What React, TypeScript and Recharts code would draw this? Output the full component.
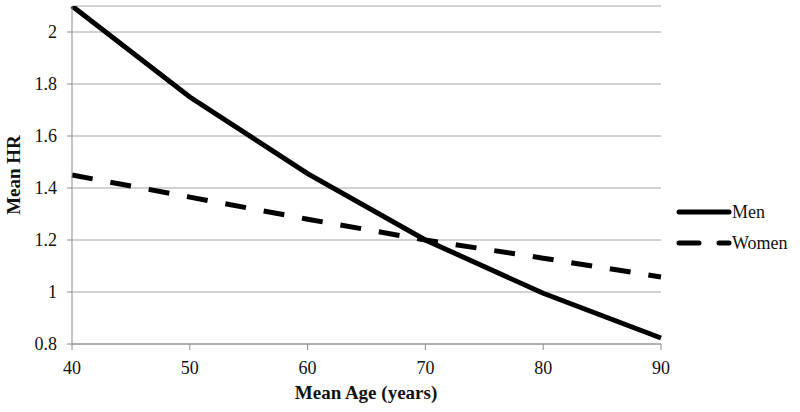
import React from "react";
import { LineChart, Line, XAxis, YAxis, CartesianGrid } from "recharts";

const ages = [40, 50, 60, 70, 80, 90];
const men = [2.1, 1.75, 1.455, 1.2, 0.995, 0.823];
const women = [1.45, 1.365, 1.28, 1.2, 1.13, 1.058];
const yTicks = [0.8, 1, 1.2, 1.4, 1.6, 1.8, 2];
const seriesNames = ["Men", "Women"];

const data = ages.map((age, i) => ({ age, Men: men[i], Women: women[i] }));

const font = "Liberation Serif";

const XTick = (props: any) => {
  const { x, y, payload } = props;
  return (
    <text x={x} y={y + 22} textAnchor="middle" fontFamily={font} fontSize={18} fill="#111">
      {payload.value}
    </text>
  );
};

const YTick = (props: any) => {
  const { x, y, payload } = props;
  return (
    <text x={x - 8} y={y + 6} textAnchor="end" fontFamily={font} fontSize={18} fill="#111">
      {payload.value}
    </text>
  );
};

// legend drawn by hand, the recharts one eats the plot width
function LegendBox() {
  const dashes = [undefined, "20 20"];
  return (
    <svg width={130} height={70} style={{ position: "absolute", left: 675, top: 200 }}>
      {seriesNames.map((name, i) => (
        <g key={name} transform={`translate(0, ${12 + i * 31})`}>
          <line x1={4} x2={54} y1={0} y2={0} stroke="#000" strokeWidth={5} strokeDasharray={dashes[i]} strokeLinecap="round" />
          <text x={57} y={6} fontFamily={font} fontSize={18} fill="#111">
            {name}
          </text>
        </g>
      ))}
    </svg>
  );
}

export default function App() {
  return (
    <div style={{ position: "absolute", left: 0, top: 0, width: 800, height: 412, background: "#fff" }}>
      <LineChart width={800} height={412} data={data} margin={{ top: 6, right: 139, left: 0, bottom: 0 }}>
        <CartesianGrid vertical={false} stroke="#a6a6a6" strokeWidth={1} />
        <XAxis
          dataKey="age"
          type="number"
          domain={[40, 90]}
          ticks={ages}
          height={68}
          tickSize={6}
          stroke="#8c8c8c"
          tick={<XTick />}
        />
        <YAxis
          type="number"
          domain={[0.8, 2.1]}
          ticks={yTicks}
          width={72}
          tickSize={5}
          stroke="#8c8c8c"
          allowDataOverflow
          tick={<YTick />}
        />
        <Line type="linear" dataKey="Men" stroke="#000" strokeWidth={5} dot={false} isAnimationActive={false} />
        <Line type="linear" dataKey="Women" stroke="#000" strokeWidth={5} strokeDasharray="21 18" dot={false} isAnimationActive={false} />
        <text x={366} y={399} textAnchor="middle" fontFamily={font} fontSize={19} fontWeight="bold" fill="#111">
          Mean Age (years)
        </text>
        <text x={20} y={175} textAnchor="middle" fontFamily={font} fontSize={19} fontWeight="bold" fill="#111" transform="rotate(-90 20 175)">
          Mean HR
        </text>
      </LineChart>
      <LegendBox />
    </div>
  );
}
